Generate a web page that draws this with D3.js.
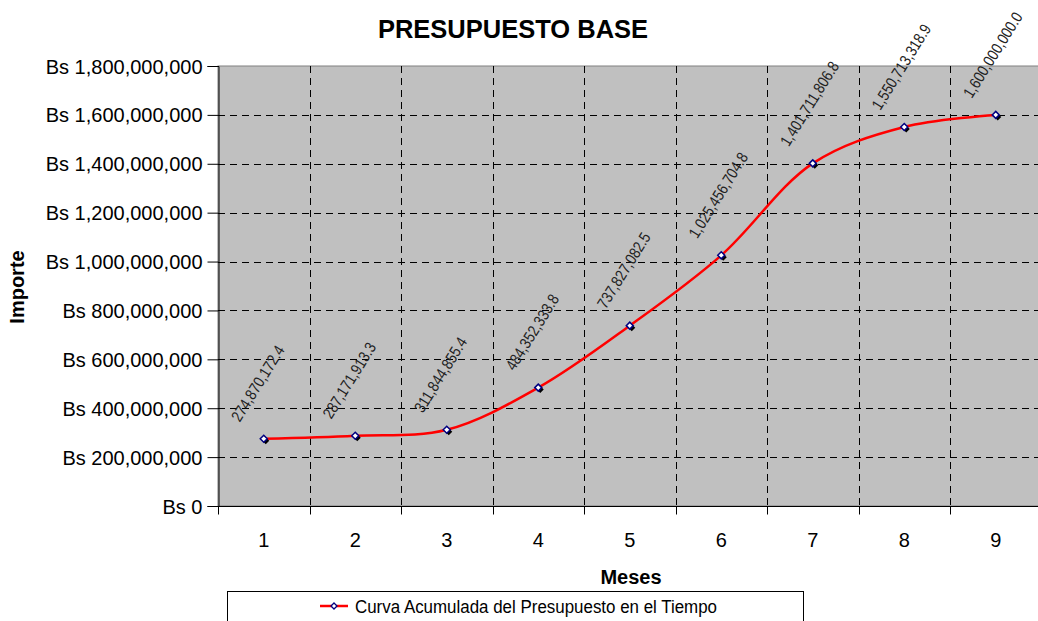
<!DOCTYPE html>
<html><head><meta charset="utf-8">
<script src="https://cdn.jsdelivr.net/npm/d3@7"></script>
<style>
body{margin:0;background:#fff;}
svg{display:block;font-family:"Liberation Sans",Arial,sans-serif;}
</style></head>
<body><svg id="c" width="1038" height="621"></svg>
<script>
const months = [1,2,3,4,5,6,7,8,9];
const values = [274870172.4, 287171913.3, 311844855.4, 484352333.8, 737827082.5, 1025456704.8, 1401711806.8, 1550713318.9, 1600000000.0];
const valueLabels = ["274,870,172.4","287,171,913.3","311,844,855.4","484,352,333.8","737,827,082.5","1,025,456,704.8","1,401,711,806.8","1,550,713,318.9","1,600,000,000.0"];
const yTicks = [0,200000000,400000000,600000000,800000000,1000000000,1200000000,1400000000,1600000000,1800000000];
const title = "PRESUPUESTO BASE";
const xTitle = "Meses";
const yTitle = "Importe";
const seriesName = "Curva Acumulada del Presupuesto en el Tiempo";

const svg = d3.select("#c");
const L = 218, R = 1041.5, T = 66, B = 506;
const x = d3.scaleBand().domain(months).range([L, R]).padding(0);
const y = d3.scaleLinear().domain([0, 1800000000]).range([B, T]);
const cx = d => x(d) + x.bandwidth()/2;

// plot background
svg.append("rect").attr("x", L).attr("y", T).attr("width", R - L).attr("height", B - T)
  .attr("fill", "#c0c0c0").attr("stroke", "#808080").attr("stroke-width", 1);

// horizontal grid
svg.append("g").selectAll("line").data(yTicks.filter(v => v > 0 && v < 1800000000)).join("line")
  .attr("x1", L).attr("x2", R).attr("y1", d => Math.round(y(d)) + 0.5).attr("y2", d => Math.round(y(d)) + 0.5)
  .attr("stroke", "#000").attr("stroke-dasharray", "7,5").attr("stroke-width", 1);
// vertical grid at band boundaries
svg.append("g").selectAll("line").data(months.slice(1)).join("line")
  .attr("x1", d => Math.round(x(d)) + 0.5).attr("x2", d => Math.round(x(d)) + 0.5).attr("y1", T).attr("y2", B)
  .attr("stroke", "#000").attr("stroke-dasharray", "7,5").attr("stroke-width", 1);

// y axis
const yAxis = d3.axisLeft(y).tickValues(yTicks).tickSize(11).tickPadding(5)
  .tickFormat(v => "Bs " + d3.format(",")(v));
const gy = svg.append("g").attr("transform", `translate(${L + 0.5},0)`).call(yAxis);
gy.select(".domain").attr("stroke", "#000");
gy.selectAll(".tick line").attr("stroke", "#000");
gy.selectAll("text").attr("font-size", 20).attr("fill", "#000").attr("dy", "0.35em")
  .attr("font-family", "Liberation Sans, Arial, sans-serif");

// x axis
const gx = svg.append("g").attr("transform", `translate(0,${B + 0.5})`);
gx.append("line").attr("x1", L).attr("x2", R).attr("stroke", "#000");
gx.selectAll("line.tk").data(months.concat([10])).join("line").attr("class", "tk")
  .attr("x1", (d, i) => Math.round(L + i * x.bandwidth()) + 0.5).attr("x2", (d, i) => Math.round(L + i * x.bandwidth()) + 0.5)
  .attr("y1", 0).attr("y2", 8).attr("stroke", "#000");
gx.selectAll("text").data(months).join("text")
  .attr("x", d => cx(d)).attr("y", 40).attr("text-anchor", "middle")
  .attr("font-size", 20).attr("fill", "#000").text(d => d);

// line
const line = d3.line().x((d, i) => cx(months[i])).y(d => y(d)).curve(d3.curveCatmullRom.alpha(0.5));
svg.append("path").datum(values).attr("d", line).attr("fill", "none")
  .attr("stroke", "#ff0000").attr("stroke-width", 2.5);

// markers
const diamond = (px, py, s) => `M${px},${py - s}L${px + s},${py}L${px},${py + s}L${px - s},${py}Z`;
const mk = svg.append("g");
values.forEach((v, i) => {
  const px = cx(months[i]), py = y(v);
  mk.append("path").attr("d", diamond(px + 2, py + 2, 3.5)).attr("fill", "#000");
  mk.append("path").attr("d", diamond(px, py, 3.5)).attr("fill", "#fff").attr("stroke", "#000080").attr("stroke-width", 1.5);
});

// data labels
svg.append("g").selectAll("text").data(values).join("text")
  .attr("transform", (d, i) => `translate(${cx(months[i]) - 24},${y(d) - 16}) rotate(-58) scale(0.84,1)`)
  .attr("font-size", 16).attr("fill", "#222").text((d, i) => valueLabels[i]);

// titles
svg.append("text").attr("x", 513).attr("y", 38).attr("text-anchor", "middle")
  .attr("font-size", 25.5).attr("font-weight", "bold").text(title);
svg.append("text").attr("x", 631).attr("y", 584).attr("text-anchor", "middle")
  .attr("font-size", 20).attr("font-weight", "bold").text(xTitle);
svg.append("text").attr("transform", "translate(24,287) rotate(-90)").attr("text-anchor", "middle")
  .attr("font-size", 20).attr("font-weight", "bold").text(yTitle);

// legend
const lg = svg.append("g");
lg.append("rect").attr("x", 227.5).attr("y", 591.5).attr("width", 576).attr("height", 40)
  .attr("fill", "#fff").attr("stroke", "#000");
lg.append("line").attr("x1", 320).attr("x2", 348).attr("y1", 606).attr("y2", 606).attr("stroke", "#ff0000").attr("stroke-width", 2.5);
lg.append("path").attr("d", diamond(334, 606, 3)).attr("fill", "#fff").attr("stroke", "#000080").attr("stroke-width", 1.3);
lg.append("text").attr("x", 355).attr("y", 612.5).attr("font-size", 17.5)
  .attr("textLength", 362).attr("lengthAdjust", "spacingAndGlyphs").text(seriesName);
</script></body></html>
